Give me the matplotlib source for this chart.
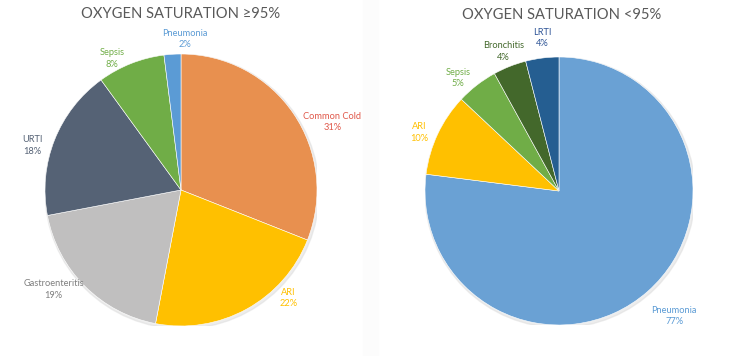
import numpy as np
import matplotlib.pyplot as plt
from matplotlib.patches import Circle, Rectangle

# === Data ===
left_title = "OXYGEN SATURATION ≥95%"
left_labels = ["Common Cold", "ARI", "Gastroenteritis", "URTI", "Sepsis", "Pneumonia"]
left_values = [31, 22, 19, 18, 8, 2]

right_title = "OXYGEN SATURATION <95%"
right_labels = ["Pneumonia", "ARI", "Sepsis", "Bronchitis", "LRTI"]
right_values = [77, 10, 5, 4, 4]

# === Styles ===
left_colors = ["#E8904F", "#FFC000", "#C0BFBF", "#556275", "#70AD47", "#5B9BD5"]
left_text = ["#E0584A", "#FFC000", "#7F7F7F", "#556275", "#70AD47", "#5B9BD5"]
left_shift = [-10, 16, -7, 5, 6, -5]      # label angle nudges (deg)
left_dist = [1.22, 1.12, 1.19, 1.14, 1.09, 1.11]

right_colors = ["#6AA1D4", "#FFC000", "#70AD47", "#43682B", "#255E91"]
right_text = ["#5B9BD5", "#FFC000", "#70AD47", "#43682B", "#2F5597"]
right_shift = [1.2, 2.5, 4, 0, -1]
right_dist = [1.27, 1.13, 1.13, 1.12, 1.15]

plt.rcParams['font.family'] = ['Lato', 'DejaVu Sans']

fig = plt.figure(figsize=(7.4, 3.56), dpi=100)
strip = Rectangle((363 / 740, 0), 15 / 740, 1, transform=fig.transFigure,
                  color="#FCFCFC", zorder=-5)
fig.patches.append(strip)


def draw_pie(rect, values, labels, colors, tcolors, shifts, dists):
    ax = fig.add_axes(rect)
    ax.patch.set_visible(False)
    ax.add_patch(Circle((0.008, -0.012), 1.008, color="#D9D9D9", alpha=0.45, zorder=0))
    wedges, _ = ax.pie(values, colors=colors, startangle=90, counterclock=False,
                       radius=1.0, wedgeprops=dict(edgecolor="white", linewidth=0.4))
    total = sum(values)
    cum = 0
    for v, lab, tc, sh, d in zip(values, labels, tcolors, shifts, dists):
        mid = 90 - (cum + v / 2) / total * 360 + sh
        cum += v
        x = d * np.cos(np.radians(mid))
        y = d * np.sin(np.radians(mid))
        ax.text(x, y, f"{lab}\n{v}%", color=tc, fontsize=6.7, ha="center",
                va="center", linespacing=1.35, clip_on=False)
    ax.set_xlim(-1, 1)
    ax.set_ylim(-1, 1)
    ax.set_aspect("auto")
    ax.axis("off")
    return ax


draw_pie([45 / 740, 30 / 356, 272 / 740, 272 / 356], left_values, left_labels,
         left_colors, left_text, left_shift, left_dist)
draw_pie([425 / 740, 31 / 356, 268 / 740, 268 / 356], right_values, right_labels,
         right_colors, right_text, right_shift, right_dist)

fig.text(181 / 740, 1 - 14 / 356, left_title, ha="center", va="center",
         fontsize=10.6, color="#595959")
fig.text(562 / 740, 1 - 15 / 356, right_title, ha="center", va="center",
         fontsize=10.6, color="#595959")

fig.savefig("out.png", dpi=100, facecolor="white")
